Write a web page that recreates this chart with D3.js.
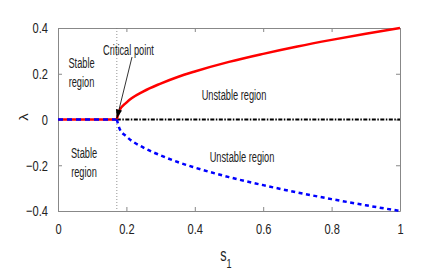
<!DOCTYPE html>
<html>
<head>
<meta charset="utf-8">
<script src="https://cdn.jsdelivr.net/npm/d3@7"></script>
<style>
  body { margin: 0; background: #fff; }
  text { font-family: "Liberation Sans", Arial, sans-serif; fill: #222; }
</style>
</head>
<body>
<div id="chart"></div>
<script>
var width = 443;
var height = 277;
var margin = {top: 28, right: 43, bottom: 66, left: 58};
var squeeze = 0.66;   // the source figure is squashed sideways, so its text is narrow

// critical point and branches
let sCrit = 0.172;
let sStable = [0, sCrit];
let sBranch = [0.172, 0.18, 0.2, 0.25, 0.3, 0.35, 0.4, 0.5, 0.6, 0.7, 0.8, 0.9, 1.0];
let lamUpper = [0, 0.04, 0.074, 0.123, 0.157, 0.186, 0.21, 0.252, 0.287, 0.319, 0.348, 0.375, 0.4];
let lamLower = [0, -0.04, -0.074, -0.123, -0.157, -0.186, -0.21, -0.252, -0.287, -0.319, -0.348, -0.375, -0.4];
let xTicks = [0, 0.2, 0.4, 0.6, 0.8, 1];
let yTicks = [-0.4, -0.2, 0, 0.2, 0.4];

let x = d3.scaleLinear().domain([0, 1]).range([margin.left, width - margin.right]);
let y = d3.scaleLinear().domain([-0.4, 0.4]).range([height - margin.bottom, margin.top]);

let svg = d3.select('#chart')
            .append('svg')
            .attr('width', width)
            .attr('height', height);

let defs = svg.append('defs');
defs.append('marker')
    .attr('id', 'arrow')
    .attr('viewBox', '0 0 10 10')
    .attr('refX', 10).attr('refY', 5)
    .attr('markerWidth', 9).attr('markerHeight', 9)
    .attr('markerUnits', 'userSpaceOnUse')
    .attr('orient', 'auto')
    .append('path')
    .attr('d', 'M0,1.5 L10,5 L0,8.5 Z')
    .attr('fill', '#000');

// axes, ticks inward, box around
let axisColor = '#888';
let gx = svg.append('g')
            .attr('transform', 'translate(0,' + y(-0.4) + ')')
            .call(d3.axisBottom(x).tickValues(xTicks).tickFormat(d3.format('')).tickSizeInner(-4).tickSizeOuter(0).tickPadding(12));
let gxTop = svg.append('g')
            .attr('transform', 'translate(0,' + y(0.4) + ')')
            .call(d3.axisTop(x).tickValues(xTicks).tickFormat('').tickSizeInner(-4).tickSizeOuter(0));
let gy = svg.append('g')
            .attr('transform', 'translate(' + x(0) + ',0)')
            .call(d3.axisLeft(y).tickValues(yTicks).tickFormat(d3.format('')).tickSizeInner(-4).tickSizeOuter(0).tickPadding(10));
let gyRight = svg.append('g')
            .attr('transform', 'translate(' + x(1) + ',0)')
            .call(d3.axisRight(y).tickValues(yTicks).tickFormat('').tickSizeInner(-4).tickSizeOuter(0));

[gx, gxTop, gy, gyRight].forEach(function(g) {
    g.select('.domain').attr('stroke', axisColor);
    g.selectAll('.tick line').attr('stroke', axisColor);
    g.selectAll('.tick text').each(function() {
        let t = d3.select(this);
        let tx = +t.attr('x') || 0;
        t.attr('x', 0)
         .attr('transform', 'translate(' + tx + ',0) scale(0.74,1)')
         .style('font-size', '15px')
         .attr('fill', '#333');
    });
});

// critical line
svg.append('line')
    .attr('x1', x(sCrit)).attr('x2', x(sCrit))
    .attr('y1', y(0.4)).attr('y2', y(-0.4))
    .attr('stroke', '#777')
    .attr('stroke-width', 0.8)
    .attr('stroke-dasharray', '1,2');

let line = d3.line()
    .x(function(d) { return x(d[0]); })
    .y(function(d) { return y(d[1]); })
    .curve(d3.curveMonotoneX);

let upper = sBranch.map(function(s, i) { return [s, lamUpper[i]]; });
let lower = sBranch.map(function(s, i) { return [s, lamLower[i]]; });
let stable = sStable.map(function(s) { return [s, 0]; });
let zeroBranch = [[sCrit, 0], [1, 0]];

// stable branch: red under blue dashes
svg.append('path').datum(stable).attr('d', line)
    .attr('fill', 'none').attr('stroke', '#ff0000').attr('stroke-width', 2.5);
svg.append('path').datum(stable).attr('d', line)
    .attr('fill', 'none').attr('stroke', '#0000ff').attr('stroke-width', 2.5)
    .attr('stroke-dasharray', '5,4');

// unstable zero branch
svg.append('path').datum(zeroBranch).attr('d', line)
    .attr('fill', 'none').attr('stroke', '#000').attr('stroke-width', 2)
    .attr('stroke-dasharray', '4,1.5,1.5,1.5');

svg.append('path').datum(upper).attr('d', line)
    .attr('fill', 'none').attr('stroke', '#ff0000').attr('stroke-width', 2.5);
svg.append('path').datum(lower).attr('d', line)
    .attr('fill', 'none').attr('stroke', '#0000ff').attr('stroke-width', 2.5)
    .attr('stroke-dasharray', '4,3.5');

// arrow to critical point
svg.append('line')
    .attr('x1', 132).attr('y1', 57)
    .attr('x2', x(sCrit)).attr('y2', y(0) - 1)
    .attr('stroke', '#000').attr('stroke-width', 0.8)
    .attr('marker-end', 'url(#arrow)');

// annotations
function label(txt, px, py) {
    svg.append('text')
        .attr('transform', 'translate(' + px + ',' + py + ') scale(' + squeeze + ',1)')
        .attr('text-anchor', 'middle')
        .style('font-size', '14px')
        .text(txt);
}
label('Critical point', 128.5, 55);
label('Stable', 81.5, 68);
label('region', 81.5, 87);
label('Stable', 84, 158);
label('region', 84, 177);
label('Unstable region', 234, 100);
label('Unstable region', 242, 162);

// axis titles
svg.append('text')
    .attr('transform', 'translate(28,117) rotate(-90) scale(1,0.8)')
    .attr('text-anchor', 'middle')
    .style('font-size', '15px')
    .text('λ');

let xt = svg.append('text')
    .attr('transform', 'translate(226,261) scale(0.7,1)')
    .attr('text-anchor', 'middle')
    .style('font-size', '18px');
xt.append('tspan').text('s');
xt.append('tspan').attr('dy', 7).style('font-size', '13px').text('1');
</script>
</body>
</html>
